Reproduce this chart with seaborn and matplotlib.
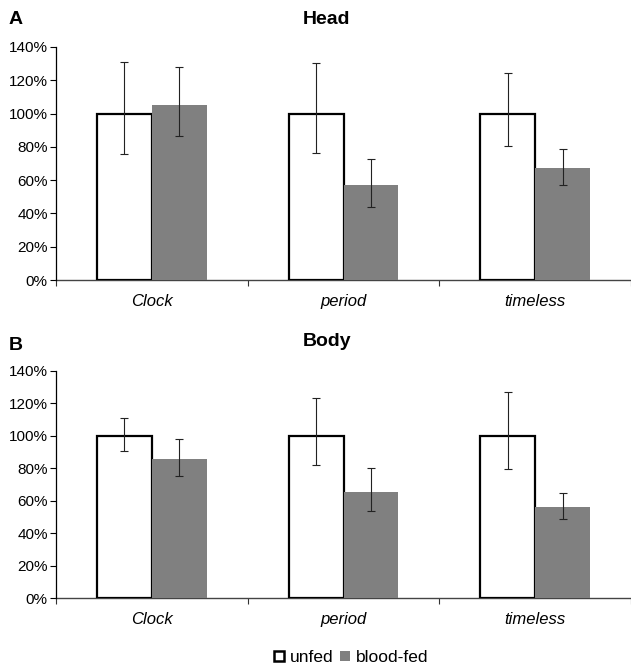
import matplotlib
matplotlib.use("Agg")
import matplotlib.pyplot as plt
import seaborn as sns
import pandas as pd
import numpy as np
from matplotlib.ticker import FixedLocator, PercentFormatter
from matplotlib.patches import Patch

categories = ["Clock", "period", "timeless"]
groups = ["unfed", "blood-fed"]

head_unfed = [100, 100, 100]
head_fed = [105.2, 57.1, 67.3]
head_unfed_low = [75.7, 76.5, 80.5]
head_unfed_high = [131.2, 130.2, 124.2]
head_fed_low = [86.5, 44.1, 57.3]
head_fed_high = [127.8, 72.9, 78.9]

body_unfed = [100, 100, 100]
body_fed = [85.6, 65.3, 56.0]
body_unfed_low = [90.3, 81.7, 79.2]
body_unfed_high = [111.0, 123.3, 127.0]
body_fed_low = [74.9, 53.4, 48.5]
body_fed_high = [97.7, 79.9, 64.5]

yticks = [0, 20, 40, 60, 80, 100, 120, 140]

sns.set_theme(style="white")
plt.rcParams["font.family"] = ["Liberation Sans", "DejaVu Sans"]
plt.rcParams["text.color"] = "black"
plt.rcParams["xtick.color"] = "black"
plt.rcParams["ytick.color"] = "black"

W, H = 631, 668
fig = plt.figure(figsize=(W / 100, H / 100), dpi=100)

def panel(rect, unfed, fed, ulo, uhi, flo, fhi, title, letter, letter_y, title_y):
    ax = fig.add_axes(rect)
    df = pd.DataFrame({
        "gene": categories * 2,
        "group": [groups[0]] * 3 + [groups[1]] * 3,
        "value": list(unfed) + list(fed),
    })
    sns.barplot(data=df, x="gene", y="value", hue="group", order=categories,
                hue_order=groups, palette=["white", "#808080"], width=0.573,
                errorbar=None, saturation=1, ax=ax, zorder=3)
    bar_conts = list(ax.containers)
    for i, cont in enumerate(bar_conts):
        for bar in cont:
            if i == 0:
                bar.set_edgecolor("black")
                bar.set_linewidth(1.6)
            else:
                bar.set_edgecolor("none")
                bar.set_linewidth(0)
    vals = [unfed, fed]
    lows = [ulo, flo]
    highs = [uhi, fhi]
    for i, cont in enumerate(bar_conts):
        xs = [b.get_x() + b.get_width() / 2 for b in cont]
        v = np.array(vals[i])
        lo = v - np.array(lows[i])
        hi = np.array(highs[i]) - v
        ax.errorbar(xs, v, yerr=[lo, hi], fmt="none", ecolor="#222222",
                    elinewidth=0.8, capsize=2.8, capthick=0.8, zorder=5)
    ax.set_ylim(0, 140)
    ax.set_xlim(-0.5, 2.5)
    ax.yaxis.set_major_locator(FixedLocator(yticks))
    ax.yaxis.set_major_formatter(PercentFormatter(decimals=0))
    ax.tick_params(axis="y", which="major", direction="out", length=4, width=0.8,
                   color="black", left=True, labelsize=11, pad=2, labelcolor="black")
    ax.tick_params(axis="x", which="major", length=0, labelsize=12, pad=19, labelcolor="black")
    ax.set_xticks([-0.5, 0.5, 1.5, 2.5], minor=True)
    ax.tick_params(axis="x", which="minor", direction="out", length=4, width=0.8,
                   color="#333333", bottom=True)
    for lab in ax.get_xticklabels():
        lab.set_fontstyle("italic")
        lab.set_verticalalignment("baseline")
    ax.set_xlabel("")
    ax.set_ylabel("")
    for s in ["top", "right"]:
        ax.spines[s].set_visible(False)
    ax.spines["left"].set_color("black")
    ax.spines["left"].set_linewidth(0.9)
    ax.spines["bottom"].set_color("#444444")
    ax.spines["bottom"].set_linewidth(1.0)
    ax.spines["bottom"].set_zorder(2)
    leg = ax.get_legend()
    if leg is not None:
        leg.remove()
    fig.text(327 / W, 1 - title_y / H, title, ha="center", va="center",
             fontsize=14, fontweight="bold")
    fig.text(9 / W, 1 - letter_y / H, letter, ha="left", va="center",
             fontsize=14, fontweight="bold")
    return ax

axA = panel([56 / W, 1 - 280 / H, (W - 56) / W, (280 - 47) / H],
            head_unfed, head_fed, head_unfed_low, head_unfed_high,
            head_fed_low, head_fed_high, "Head", "A", 19, 19)
axB = panel([56 / W, 1 - 598 / H, (W - 56) / W, (598 - 370.7) / H],
            body_unfed, body_fed, body_unfed_low, body_unfed_high,
            body_fed_low, body_fed_high, "Body", "B", 345, 342)

handles = [Patch(facecolor="white", edgecolor="black", linewidth=1.8, label=groups[0]),
           Patch(facecolor="#808080", edgecolor="none", label=groups[1])]
fig.legend(handles=handles, loc="center", bbox_to_anchor=(351 / W, 1 - 658 / H),
           ncol=2, frameon=False, fontsize=12.5, handlelength=0.6, handleheight=0.5,
           handletextpad=0.3, columnspacing=0.4, borderpad=0)

fig.savefig("out.png", dpi=100)
